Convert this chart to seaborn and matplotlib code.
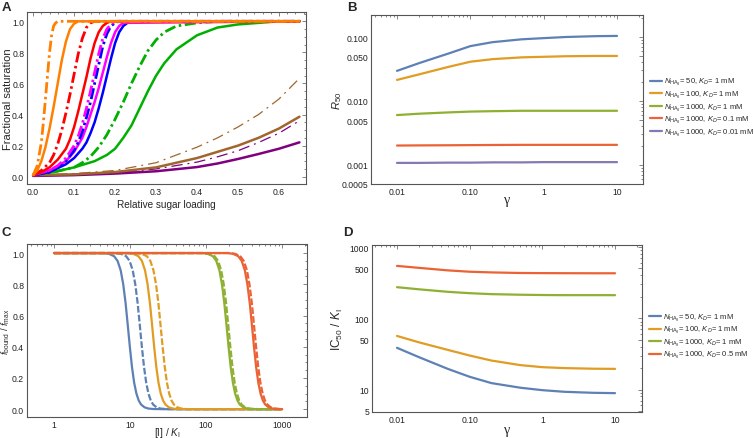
import numpy as np
import pandas as pd
import matplotlib
matplotlib.use("Agg")
import matplotlib.pyplot as plt
import seaborn as sns
from matplotlib.ticker import FixedLocator, FixedFormatter, MultipleLocator, LogLocator, NullFormatter, FuncFormatter

sns.set_theme(style="white")
plt.rcParams['font.family'] = ['Liberation Sans', 'DejaVu Sans']
plt.rcParams['mathtext.fontset'] = 'custom'
plt.rcParams['mathtext.rm'] = 'Liberation Sans'
plt.rcParams['mathtext.it'] = 'Liberation Sans:italic'
plt.rcParams['mathtext.bf'] = 'Liberation Sans:bold'

# ---------------- Panel A data ----------------
a_orange_dd_x = [0, 0.01, 0.02, 0.025, 0.03, 0.035, 0.04, 0.045, 0.05, 0.055, 0.06, 0.65]
a_orange_dd_y = [0.01, 0.07, 0.22, 0.35, 0.5, 0.65, 0.8, 0.91, 0.97, 0.99, 1.0, 1.0]
a_orange_x = [0, 0.01, 0.02, 0.03, 0.04, 0.05, 0.06, 0.07, 0.08, 0.09, 0.1, 0.11, 0.65]
a_orange_y = [0.01, 0.04, 0.1, 0.19, 0.31, 0.45, 0.6, 0.75, 0.87, 0.95, 0.985, 1.0, 1.0]
a_red_dd_x = [0, 0.02, 0.04, 0.05, 0.06, 0.07, 0.08, 0.09, 0.1, 0.11, 0.12, 0.13, 0.14, 0.15, 0.65]
a_red_dd_y = [0.01, 0.04, 0.09, 0.14, 0.21, 0.3, 0.41, 0.53, 0.66, 0.79, 0.89, 0.96, 0.99, 1, 1]
a_red_x = [0, 0.02, 0.04, 0.06, 0.08, 0.09, 0.1, 0.11, 0.12, 0.13, 0.14, 0.15, 0.16, 0.17, 0.18, 0.19, 0.65]
a_red_y = [0.01, 0.03, 0.06, 0.11, 0.18, 0.24, 0.32, 0.42, 0.53, 0.64, 0.76, 0.86, 0.93, 0.97, 0.99, 1, 1]
a_mag_dd_x = [0, 0.04, 0.06, 0.08, 0.1, 0.11, 0.12, 0.13, 0.14, 0.15, 0.16, 0.17, 0.18, 0.19, 0.2, 0.65]
a_mag_dd_y = [0.01, 0.04, 0.07, 0.12, 0.2, 0.26, 0.34, 0.44, 0.55, 0.67, 0.79, 0.89, 0.95, 0.98, 1, 1]
a_blue_dd_x = [0, 0.04, 0.06, 0.08, 0.1, 0.11, 0.12, 0.13, 0.14, 0.15, 0.16, 0.17, 0.18, 0.19, 0.2, 0.21, 0.65]
a_blue_dd_y = [0.01, 0.03, 0.06, 0.1, 0.17, 0.22, 0.29, 0.38, 0.48, 0.6, 0.72, 0.84, 0.92, 0.97, 0.99, 1, 1]
a_mag_x = [0, 0.04, 0.08, 0.1, 0.12, 0.13, 0.14, 0.15, 0.16, 0.17, 0.18, 0.19, 0.2, 0.21, 0.22, 0.65]
a_mag_y = [0.01, 0.04, 0.1, 0.16, 0.25, 0.32, 0.4, 0.48, 0.57, 0.67, 0.77, 0.86, 0.93, 0.97, 0.99, 1]
a_blue_x = [0, 0.04, 0.08, 0.1, 0.12, 0.13, 0.14, 0.15, 0.16, 0.17, 0.18, 0.19, 0.2, 0.21, 0.22, 0.23, 0.24, 0.65]
a_blue_y = [0.01, 0.03, 0.08, 0.12, 0.18, 0.22, 0.28, 0.35, 0.44, 0.54, 0.65, 0.76, 0.86, 0.93, 0.97, 0.99, 1, 1]
a_green_dd_x = [0, 0.05, 0.1, 0.12, 0.14, 0.16, 0.18, 0.2, 0.22, 0.24, 0.26, 0.28, 0.3, 0.32, 0.35, 0.4, 0.45, 0.65]
a_green_dd_y = [0.01, 0.03, 0.06, 0.09, 0.13, 0.19, 0.27, 0.37, 0.48, 0.6, 0.71, 0.81, 0.88, 0.93, 0.97, 0.99, 1, 1]
a_green_x = [0, 0.05, 0.1, 0.15, 0.18, 0.2, 0.22, 0.24, 0.26, 0.28, 0.3, 0.32, 0.35, 0.4, 0.45, 0.5, 0.55, 0.6, 0.65]
a_green_y = [0.01, 0.03, 0.06, 0.1, 0.14, 0.18, 0.25, 0.33, 0.44, 0.55, 0.65, 0.73, 0.82, 0.91, 0.96, 0.98, 0.99, 1, 1]
a_low_x = [0, 0.1, 0.2, 0.3, 0.4, 0.45, 0.5, 0.55, 0.6, 0.65]
a_brown_dd_y = [0.01, 0.02, 0.04, 0.09, 0.19, 0.25, 0.32, 0.40, 0.5, 0.633]
a_brown_y = [0.01, 0.015, 0.03, 0.06, 0.12, 0.16, 0.2, 0.25, 0.31, 0.386]
a_purple_dd_y = [0.01, 0.015, 0.025, 0.05, 0.094, 0.128, 0.167, 0.22, 0.28, 0.36]
a_purple_y = [0.005, 0.01, 0.02, 0.035, 0.062, 0.085, 0.114, 0.146, 0.18, 0.221]

# ---------------- Panel B / D data ----------------
gamma = [0.01, 0.02, 0.05, 0.1, 0.2, 0.5, 1, 2, 5, 10]
b_labels = [r"$N_{\mathrm{HA}_3}$= 50, $K_D$= 1 mM",
            r"$N_{\mathrm{HA}_3}$= 100, $K_D$= 1 mM",
            r"$N_{\mathrm{HA}_3}$= 1000, $K_D$= 1 mM",
            r"$N_{\mathrm{HA}_3}$= 1000, $K_D$= 0.1 mM",
            r"$N_{\mathrm{HA}_3}$= 1000, $K_D$= 0.01 mM"]
b_n50 = [0.0295, 0.039, 0.055, 0.072, 0.083, 0.092, 0.096, 0.100, 0.103, 0.104]
b_n100 = [0.0213, 0.026, 0.034, 0.041, 0.045, 0.048, 0.049, 0.050, 0.0505, 0.0505]
b_n1000 = [0.0060, 0.0063, 0.0066, 0.0068, 0.0069, 0.0070, 0.0070, 0.0070, 0.0070, 0.0070]
b_kd01 = [0.00200, 0.00201, 0.00202, 0.00203, 0.00204, 0.00205, 0.00205, 0.00205, 0.00205, 0.00205]
b_kd001 = [0.00107, 0.00107, 0.00108, 0.00108, 0.00109, 0.00109, 0.00110, 0.00110, 0.00110, 0.00110]

d_labels = [r"$N_{\mathrm{HA}_3}$= 50, $K_D$= 1 mM",
            r"$N_{\mathrm{HA}_3}$= 100, $K_D$= 1 mM",
            r"$N_{\mathrm{HA}_3}$= 1000, $K_D$= 1 mM",
            r"$N_{\mathrm{HA}_3}$= 1000, $K_D$= 0.5 mM"]
d_n50 = [38.5, 28.5, 19.5, 15.1, 12.3, 10.6, 9.8, 9.3, 9.0, 8.9]
d_n100 = [56.5, 46, 36, 30, 25.5, 22, 20.6, 20, 19.6, 19.5]
d_n1000 = [273, 255, 235, 225, 218, 214, 212, 211, 211, 211]
d_kd05 = [543, 510, 470, 450, 440, 432, 430, 429, 428, 428]

# ---------------- Panel C data ----------------
c_y = [1, 1, 0.995, 0.98, 0.95, 0.89, 0.8, 0.68, 0.54, 0.4, 0.27, 0.17, 0.1, 0.055, 0.03, 0.012, 0.004, 0.001, 0, 0]
c_blue_x = [1, 4.5, 5.28, 6.16, 6.85, 7.53, 8.14, 8.74, 9.33, 9.94, 10.61, 11.33, 12.13, 13.03, 13.98, 15.5, 17.5, 20.5, 30, 1000]
c_blue_dash_x = [1, 6.5, 7.6, 8.87, 9.86, 10.84, 11.72, 12.59, 13.44, 14.31, 15.28, 16.32, 17.47, 18.76, 20.13, 22.3, 25.2, 29.5, 43, 1000]
c_orange_x = [1, 9.4, 11.04, 12.87, 14.32, 15.74, 17.01, 18.27, 19.5, 20.77, 22.17, 23.68, 25.35, 27.23, 29.22, 32.4, 36.6, 42.8, 63, 1000]
c_orange_dash_x = [1, 12.2, 14.26, 16.63, 18.5, 20.33, 21.98, 23.6, 25.19, 26.84, 28.65, 30.59, 32.75, 35.18, 37.75, 41.9, 47.3, 55.4, 81, 1000]
c_green_x = [1, 90, 105, 122.6, 136.3, 149.8, 162, 173.9, 185.7, 197.8, 211.1, 225.5, 241.4, 259.3, 278.2, 308.5, 348, 408, 597, 1000]
c_green_dash_x = [1, 94.5, 110.9, 129.4, 143.9, 158.1, 170.9, 183.5, 195.9, 208.7, 222.8, 237.9, 254.7, 273.6, 293.6, 325.5, 367.5, 430.5, 630, 1000]
c_red_y = [1, 1, 0.995, 0.98, 0.95, 0.89, 0.8, 0.68, 0.54, 0.4, 0.27, 0.17, 0.1, 0.055, 0.03, 0.012, 0.004, 0.001, 0.0005]
c_red_x = [1, 193.5, 227, 264.9, 294.6, 323.8, 350, 375.8, 401.2, 427.4, 456.2, 487.2, 521.6, 560.3, 601.1, 666.5, 752.5, 881.5, 1000]
c_red_dash_x = [1, 206, 241.8, 282.1, 313.7, 344.9, 372.8, 400.3, 427.3, 455.3, 485.9, 518.9, 555.6, 596.8, 640.3, 709.9, 801.5, 938.9, 1000]

M_BLUE, M_ORANGE, M_GREEN, M_RED, M_PURPLE = "#5E81B5", "#E19C24", "#8FB032", "#EB6235", "#8778B3"

W, H = 754, 439
fig = plt.figure(figsize=(W / 100, H / 100), dpi=100)


def box(l, t, r, b):
    return [l / W, 1 - b / H, (r - l) / W, (b - t) / H]


axA = fig.add_axes(box(27, 13, 306, 185))
axB = fig.add_axes(box(371, 16, 643, 185))
axC = fig.add_axes(box(27, 245, 307, 418))
axD = fig.add_axes(box(372, 246, 642, 413))

FRAME = "#555555"
TICKFS = 6.2
LABFS = 7.2


def style(ax):
    for s in ax.spines.values():
        s.set_color(FRAME)
        s.set_linewidth(0.8)
    ax.tick_params(which='both', direction='in', top=True, right=True, colors=FRAME,
                   labelcolor='#222222', labelsize=TICKFS, width=0.5, pad=2)
    ax.tick_params(which='major', length=3)
    ax.tick_params(which='minor', length=1.6)


def line(ax, x, y, color, ls='-', lw=1.5, label=None):
    df = pd.DataFrame({'x': x, 'y': y})
    sns.lineplot(data=df, x='x', y='y', ax=ax, color=color, linestyle=ls, linewidth=lw,
                 errorbar=None, sort=False, label=label, legend=False)


DD = (0, (4, 1.3, 0.9, 1.3))
DDT = (0, (9, 4, 1.5, 4))
SW, DW = 1.8, 2.0

# ---- A ----
line(axA, a_low_x, a_purple_y, "#800080", '-', SW)
line(axA, a_low_x, a_purple_dd_y, "#800080", DDT, 0.9)
line(axA, a_low_x, a_brown_y, "#A0662E", '-', SW)
line(axA, a_low_x, a_brown_dd_y, "#A0662E", DDT, 0.9)
line(axA, a_green_x, a_green_y, "#00B000", '-', SW)
line(axA, a_green_dd_x, a_green_dd_y, "#00B000", DD, DW)
line(axA, a_blue_x, a_blue_y, "#0000FF", '-', SW)
line(axA, a_mag_x, a_mag_y, "#FF00FF", '-', SW)
line(axA, a_blue_dd_x, a_blue_dd_y, "#0000FF", DD, DW)
line(axA, a_mag_dd_x, a_mag_dd_y, "#FF00FF", DD, DW)
line(axA, a_red_x, a_red_y, "#FF0000", '-', SW)
line(axA, a_red_dd_x, a_red_dd_y, "#FF0000", DD, DW)
line(axA, a_orange_x, a_orange_y, "#FF8000", '-', SW)
line(axA, a_orange_dd_x, a_orange_dd_y, "#FF8000", DD, DW)
axA.set_xlim(-0.015, 0.666)
axA.set_ylim(-0.047, 1.06)
axA.xaxis.set_major_locator(MultipleLocator(0.1))
axA.xaxis.set_minor_locator(MultipleLocator(0.02))
axA.yaxis.set_major_locator(MultipleLocator(0.2))
axA.yaxis.set_minor_locator(MultipleLocator(0.05))
axA.xaxis.set_major_formatter(FuncFormatter(lambda v, p: f"{v:.1f}"))
axA.yaxis.set_major_formatter(FuncFormatter(lambda v, p: f"{v:.1f}"))
axA.set_xlabel("Relative sugar loading", fontsize=LABFS)
axA.set_ylabel("Fractional saturation", fontsize=8)
style(axA)

GAMMA_KW = dict(fontsize=10, family=['Liberation Serif', 'DejaVu Serif'])
LEG_KW = dict(frameon=False, fontsize=5.5, handlelength=1.6, handletextpad=0.2, labelspacing=0.2,
              borderpad=0, borderaxespad=0)

# ---- B ----
for vals, col, lab in zip([b_n50, b_n100, b_n1000, b_kd01, b_kd001],
                          [M_BLUE, M_ORANGE, M_GREEN, M_RED, M_PURPLE], b_labels):
    line(axB, gamma, vals, col, '-', 1.6, lab)
axB.set_xscale('log')
axB.set_yscale('log')
axB.set_xlim(0.00442, 22.6)
axB.set_ylim(0.0005, 0.221)
axB.xaxis.set_major_locator(FixedLocator([0.01, 0.1, 1, 10]))
axB.xaxis.set_major_formatter(FixedFormatter(["0.01", "0.10", "1", "10"]))
axB.xaxis.set_minor_locator(LogLocator(base=10, subs=np.arange(2, 10)))
axB.xaxis.set_minor_formatter(NullFormatter())
axB.yaxis.set_major_locator(FixedLocator([0.0005, 0.001, 0.005, 0.01, 0.05, 0.1]))
axB.yaxis.set_major_formatter(FixedFormatter(["0.0005", "0.001", "0.005", "0.010", "0.050", "0.100"]))
axB.yaxis.set_minor_locator(LogLocator(base=10, subs=np.arange(2, 10)))
axB.yaxis.set_minor_formatter(NullFormatter())
axB.set_xlabel("γ", **GAMMA_KW)
axB.set_ylabel(r"$R_{50}$", fontsize=8)
style(axB)
axB.legend(loc='center left', bbox_to_anchor=(650 / W, 1 - 108 / H), bbox_transform=fig.transFigure,
           **LEG_KW)

# ---- C ----
DASH = (0, (3, 1))
line(axC, c_blue_x, c_y, M_BLUE, '-', 1.6)
line(axC, c_blue_dash_x, c_y, M_BLUE, DASH, 1.6)
line(axC, c_orange_x, c_y, M_ORANGE, '-', 1.6)
line(axC, c_orange_dash_x, c_y, M_ORANGE, DASH, 1.6)
line(axC, c_green_x, c_y, M_GREEN, '-', 1.6)
line(axC, c_green_dash_x, c_y, M_GREEN, DASH, 1.6)
line(axC, c_red_x, c_red_y, M_RED, '-', 1.6)
line(axC, c_red_dash_x, c_red_y, M_RED, DASH, 1.6)
axC.set_xscale('log')
axC.set_xlim(0.441, 2130)
axC.set_ylim(-0.05, 1.058)
axC.xaxis.set_major_locator(FixedLocator([1, 10, 100, 1000]))
axC.xaxis.set_major_formatter(FixedFormatter(["1", "10", "100", "1000"]))
axC.xaxis.set_minor_locator(LogLocator(base=10, subs=np.arange(2, 10)))
axC.xaxis.set_minor_formatter(NullFormatter())
axC.yaxis.set_major_locator(MultipleLocator(0.2))
axC.yaxis.set_minor_locator(MultipleLocator(0.05))
axC.yaxis.set_major_formatter(FuncFormatter(lambda v, p: f"{v:.1f}"))
axC.set_xlabel(r"[I] / $K_{\mathrm{I}}$", fontsize=LABFS)
axC.set_ylabel(r"$f_{\mathrm{bound}}$ / $f_{\mathrm{max}}$", fontsize=6.8)
style(axC)

# ---- D ----
for vals, col, lab in zip([d_n50, d_n100, d_n1000, d_kd05],
                          [M_BLUE, M_ORANGE, M_GREEN, M_RED], d_labels):
    line(axD, gamma, vals, col, '-', 1.6, lab)
axD.set_xscale('log')
axD.set_yscale('log')
axD.set_xlim(0.00453, 23.5)
axD.set_ylim(4.84, 1067)
axD.xaxis.set_major_locator(FixedLocator([0.01, 0.1, 1, 10]))
axD.xaxis.set_major_formatter(FixedFormatter(["0.01", "0.10", "1", "10"]))
axD.xaxis.set_minor_locator(LogLocator(base=10, subs=np.arange(2, 10)))
axD.xaxis.set_minor_formatter(NullFormatter())
axD.yaxis.set_major_locator(FixedLocator([5, 10, 50, 100, 500, 1000]))
axD.yaxis.set_major_formatter(FixedFormatter(["5", "10", "50", "100", "500", "1000"]))
axD.yaxis.set_minor_locator(LogLocator(base=10, subs=np.arange(2, 10)))
axD.yaxis.set_minor_formatter(NullFormatter())
axD.set_xlabel("γ", **GAMMA_KW)
axD.set_ylabel(r"IC$_{50}$ / $K_{\mathrm{I}}$", fontsize=8.5)
style(axD)
axD.legend(loc='center left', bbox_to_anchor=(649 / W, 1 - 337 / H), bbox_transform=fig.transFigure,
           **LEG_KW)

# label positions
axA.yaxis.set_label_coords(-0.05, 0.5)
axA.xaxis.set_label_coords(0.5, -0.09)
axB.yaxis.set_label_coords(-0.1, 0.5)
axB.xaxis.set_label_coords(0.5, -0.055)
axC.yaxis.set_label_coords(-0.052, 0.5)
axC.xaxis.set_label_coords(0.5, -0.045)
axD.yaxis.set_label_coords(-0.1, 0.5)
axD.xaxis.set_label_coords(0.5, -0.065)

for txt, x, y in [("A", 2, 2), ("B", 347, 2), ("C", 2, 227), ("D", 343, 227)]:
    fig.text(x / W, 1 - y / H, txt, fontsize=9.5, fontweight='bold', ha='left', va='top')

fig.savefig("out.png", dpi=100)
